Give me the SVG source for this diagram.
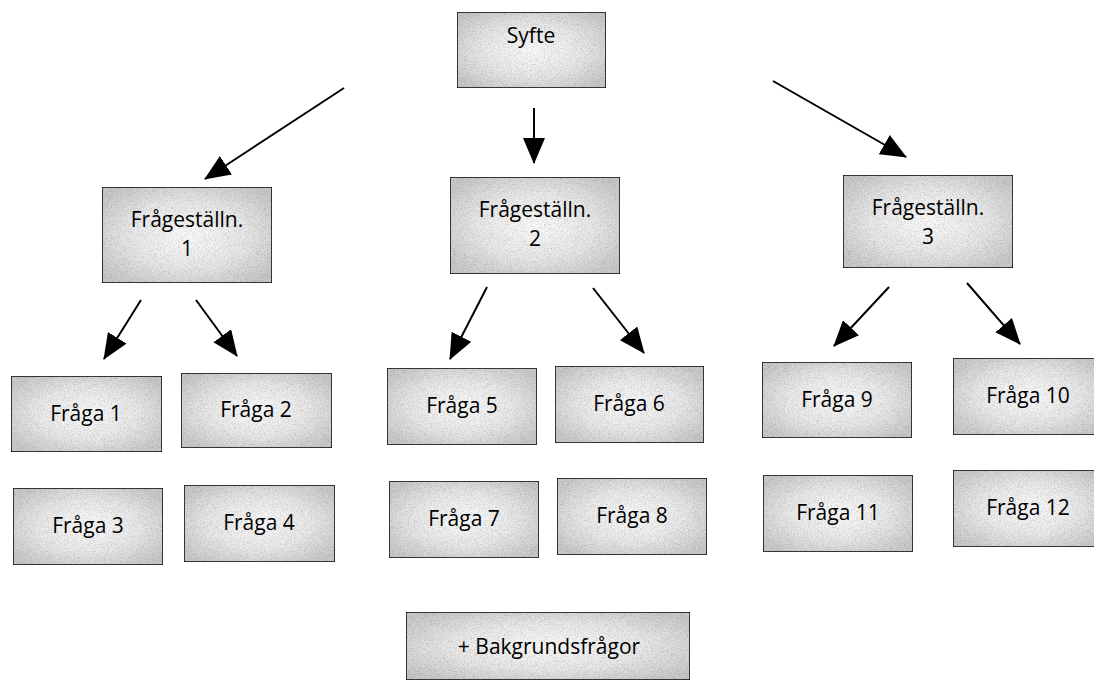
<svg xmlns="http://www.w3.org/2000/svg" width="1094" height="684" viewBox="0 0 1094 684">
  <defs>
    <radialGradient id="boxfill" cx="50%" cy="50%" r="62%">
      <stop offset="0" stop-color="#fbfbfb"/>
      <stop offset="0.55" stop-color="#e8e8e8"/>
      <stop offset="1" stop-color="#c9c9c9"/>
    </radialGradient>
    <filter id="grain" x="0" y="0" width="100%" height="100%">
      <feTurbulence type="fractalNoise" baseFrequency="1.3" numOctaves="1" seed="3" result="n"/>
      <feColorMatrix in="n" type="matrix" values="0 0 0 0 0  0 0 0 0 0  0 0 0 0 0  0 0 0 -0.9 0.5" result="dots"/>
      <feComposite in="dots" in2="SourceGraphic" operator="in" result="d2"/>
      <feMerge><feMergeNode in="SourceGraphic"/><feMergeNode in="d2"/></feMerge>
    </filter>
    <marker id="arrow" markerUnits="userSpaceOnUse" markerWidth="26" markerHeight="22" viewBox="0 0 26 22" refX="25" refY="11" orient="auto">
      <path d="M0,0 L26,11 L0,22 Z" fill="#000"/>
    </marker>
  </defs>
  <style>
    .box { fill: url(#boxfill); stroke: #1e1e1e; stroke-width: 1.7; filter: url(#grain); }
    .lbl { font-family: "Open Sans", "Noto Sans", sans-serif; font-size: 21px; fill: #000; text-anchor: middle; }
    .conn { stroke: #000; stroke-width: 2; fill: none; marker-end: url(#arrow); }
  </style>
  <rect width="1094" height="684" fill="#fff"/>

  <g id="connectors">
    <line class="conn" x1="344" y1="88" x2="205" y2="179"/>
    <line class="conn" x1="534" y1="108" x2="534" y2="163"/>
    <line class="conn" x1="773" y1="81" x2="906" y2="157"/>
    <line class="conn" x1="141" y1="300" x2="104" y2="359"/>
    <line class="conn" x1="196" y1="300" x2="237" y2="356"/>
    <line class="conn" x1="487" y1="287" x2="450" y2="359"/>
    <line class="conn" x1="593" y1="288" x2="644" y2="353"/>
    <line class="conn" x1="889" y1="287" x2="834" y2="346"/>
    <line class="conn" x1="967" y1="283" x2="1020" y2="344"/>
  </g>

  <g id="syfte">
    <rect class="box" x="457" y="12" width="149" height="76"/>
    <text class="lbl" x="531" y="43">Syfte</text>
  </g>

  <g id="fst1">
    <rect class="box" x="102" y="187" width="170" height="96"/>
    <text class="lbl" x="187" y="227">Frågeställn.</text>
    <text class="lbl" x="187" y="256">1</text>
  </g>
  <g id="fst2">
    <rect class="box" x="450" y="177" width="170" height="97"/>
    <text class="lbl" x="535" y="217">Frågeställn.</text>
    <text class="lbl" x="535" y="246">2</text>
  </g>
  <g id="fst3">
    <rect class="box" x="843" y="175" width="170" height="93"/>
    <text class="lbl" x="928" y="215">Frågeställn.</text>
    <text class="lbl" x="928" y="244">3</text>
  </g>

  <g id="f1"><rect class="box" x="11" y="376" width="151" height="76"/><text class="lbl" x="86" y="421">Fråga 1</text></g>
  <g id="f2"><rect class="box" x="181" y="373" width="151" height="75"/><text class="lbl" x="256" y="417">Fråga 2</text></g>
  <g id="f3"><rect class="box" x="13" y="488" width="150" height="77"/><text class="lbl" x="88" y="533">Fråga 3</text></g>
  <g id="f4"><rect class="box" x="184" y="485" width="151" height="77"/><text class="lbl" x="259" y="530">Fråga 4</text></g>

  <g id="f5"><rect class="box" x="387" y="368" width="150" height="77"/><text class="lbl" x="462" y="413">Fråga 5</text></g>
  <g id="f6"><rect class="box" x="555" y="366" width="149" height="77"/><text class="lbl" x="629" y="411">Fråga 6</text></g>
  <g id="f7"><rect class="box" x="389" y="481" width="150" height="77"/><text class="lbl" x="464" y="526">Fråga 7</text></g>
  <g id="f8"><rect class="box" x="557" y="478" width="150" height="77"/><text class="lbl" x="632" y="523">Fråga 8</text></g>

  <g id="f9"><rect class="box" x="762" y="362" width="150" height="76"/><text class="lbl" x="837" y="407">Fråga 9</text></g>
  <g id="f10"><rect class="box" x="953" y="358" width="152" height="77"/><text class="lbl" x="1028" y="403">Fråga 10</text></g>
  <g id="f11"><rect class="box" x="763" y="475" width="150" height="77"/><text class="lbl" x="838" y="520">Fråga 11</text></g>
  <g id="f12"><rect class="box" x="953" y="470" width="152" height="77"/><text class="lbl" x="1028" y="515">Fråga 12</text></g>

  <g id="bakgrund">
    <rect class="box" x="406" y="612" width="284" height="68"/>
    <text class="lbl" x="549" y="654">+ Bakgrundsfrågor</text>
  </g>
</svg>
